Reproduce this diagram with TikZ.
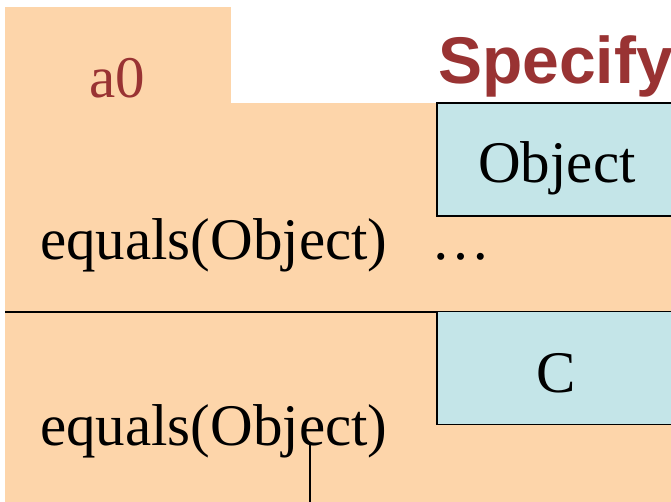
\documentclass[tikz,border=0pt]{standalone}
\usepackage{fontspec}
\setmainfont{Liberation Serif}
\newfontfamily\headfont{Liberation Sans}
\definecolor{frameorange}{HTML}{FDD5AA}
\definecolor{classcyan}{HTML}{C4E5E8}
\definecolor{titlered}{HTML}{993333}
\tikzset{
  classbox/.style={draw=black, line width=1.5pt, fill=classcyan, rectangle,
    minimum width=240pt, minimum height=113pt, inner sep=0pt},
  bodytext/.style={inner sep=0pt, font=\fontsize{59}{70}\selectfont},
  titletext/.style={inner sep=0pt, text=titlered,
    font=\headfont\bfseries\fontsize{66}{79}\selectfont},
  rule/.style={line width=1.6pt}
}
\begin{document}
\begin{tikzpicture}[x=1pt, y=-1pt]
  \useasboundingbox (0,0) rectangle (671,502);
  \clip (0,0) rectangle (671,502);
  \fill[white] (0,0) rectangle (671,502);

  % frame: tab plus body
  \fill[frameorange] (5,7) rectangle (231,104);
  \fill[frameorange] (5,103) rectangle (690,510);

  % title
  \node[titletext, anchor=base west] (title) at (438,84) {Specifying};

  % tab label
  \node[bodytext, text=titlered, anchor=base] (tab) at (117,98) {a0};

  % upper section
  \node[classbox] (obj) at (557,159.5) {};
  \node[bodytext, anchor=base] (objlbl) at (557,183) {Object};
  \node[bodytext, anchor=base west] (equp) at (40,260) {equals(Object)};
  \node[bodytext, anchor=base west] (dots) at (431,260) {\dots};

  % separator
  \coordinate (sepL) at (5,312);
  \coordinate (sepR) at (690,312);
  \draw[rule] (sepL) -- (sepR);

  % lower section
  \node[classbox] (cls) at (557,368) {};
  \node[bodytext, anchor=base] (clslbl) at (556,392) {C};
  \node[bodytext, anchor=base west] (eqlow) at (40,445) {equals(Object)};

  % line down from the lower method
  \coordinate (stemtop) at (310,442);
  \coordinate (stembot) at (310,510);
  \draw[line width=1.5pt] (stemtop) -- (stembot);
\end{tikzpicture}
\end{document}
